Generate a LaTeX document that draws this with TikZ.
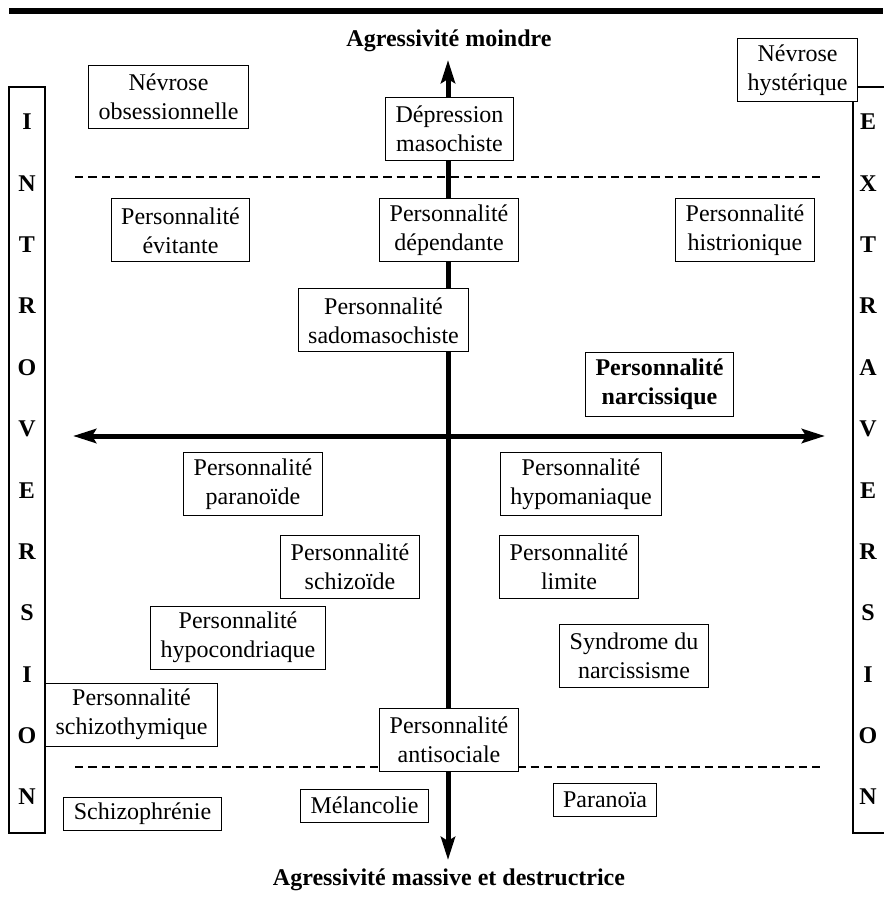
\documentclass[tikz,border=0pt]{standalone}
\usepackage{fontspec}
\setmainfont{Liberation Serif}
\usetikzlibrary{arrows.meta}

\begin{document}
\begin{tikzpicture}[x=0.5pt,y=-0.5pt,box/.style={draw,fill=white,line width=0.5pt,align=center,inner xsep=5pt,inner ysep=0pt,minimum height=31.5pt,font=\fontsize{12}{14.5}\selectfont},onebox/.style={box,minimum height=16.5pt},lettre/.style={font=\fontsize{12}{14.5}\selectfont\bfseries},titre/.style={font=\fontsize{12}{14.5}\selectfont\bfseries},axe/.style={line width=2.5pt,{Stealth[length=11.5pt,width=7pt,inset=2pt]}-{Stealth[length=11.5pt,width=7pt,inset=2pt]}},seuil/.style={line width=1.35pt,dash pattern=on 4.2pt off 2.5pt}]
  \useasboundingbox (0,0) rectangle (883,908);
  %top bar
  \fill (9,8) rectangle (883,14);
  %titles
  \node[titre] (haut) at (449,41) {Agressivité moindre};
  \node[titre] (bas) at (449,880) {Agressivité massive et destructrice};
  %axes
  \coordinate (n) at (448,60);
  \coordinate (s) at (448,860);
  \coordinate (w) at (73,436);
  \coordinate (e) at (825,436);
  \draw[axe] (s) -- (n);
  \draw[axe] (w) -- (e);
  %dashed limits
  \coordinate (d1w) at (75,177);
  \coordinate (d1e) at (822,177);
  \coordinate (d2w) at (75,767);
  \coordinate (d2e) at (822,767);
  \draw[seuil] (d1w) -- (d1e);
  \draw[seuil] (d2w) -- (d2e);
  %introversion
  \draw[line width=0.6pt] (9,87) rectangle (45,833);
  \node[lettre] (in1) at (27,122) {I};
  \node[lettre] (in2) at (27,183.4) {N};
  \node[lettre] (in3) at (27,244.7) {T};
  \node[lettre] (in4) at (27,306.1) {R};
  \node[lettre] (in5) at (27,367.4) {O};
  \node[lettre] (in6) at (27,428.8) {V};
  \node[lettre] (in7) at (27,490.2) {E};
  \node[lettre] (in8) at (27,551.5) {R};
  \node[lettre] (in9) at (27,612.9) {S};
  \node[lettre] (in10) at (27,674.2) {I};
  \node[lettre] (in11) at (27,735.6) {O};
  \node[lettre] (in12) at (27,797) {N};
  %extraversion
  \draw[line width=0.6pt] (853,87) rectangle (895,833);
  \node[lettre] (ex1) at (868,122) {E};
  \node[lettre] (ex2) at (868,183.4) {X};
  \node[lettre] (ex3) at (868,244.7) {T};
  \node[lettre] (ex4) at (868,306.1) {R};
  \node[lettre] (ex5) at (868,367.4) {A};
  \node[lettre] (ex6) at (868,428.8) {V};
  \node[lettre] (ex7) at (868,490.2) {E};
  \node[lettre] (ex8) at (868,551.5) {R};
  \node[lettre] (ex9) at (868,612.9) {S};
  \node[lettre] (ex10) at (868,674.2) {I};
  \node[lettre] (ex11) at (868,735.6) {O};
  \node[lettre] (ex12) at (868,797) {N};
  %upper half
  \node[box] (obs) at (168.5,97) {Névrose\\obsessionnelle};
  \node[box] (dmaso) at (449.5,129) {Dépression\\masochiste};
  \node[box] (hyst) at (797.5,70) {Névrose\\hystérique};
  \node[box] (evit) at (180.5,230.5) {Personnalité\\évitante};
  \node[box] (dep) at (449,230.5) {Personnalité\\dépendante};
  \node[box] (hist) at (745,230.5) {Personnalité\\histrionique};
  \node[box] (sado) at (383.5,320.5) {Personnalité\\sadomasochiste};
  \node[box,font=\fontsize{12}{14.5}\selectfont\bfseries] (narc) at (659.5,384.5) {Personnalité\\narcissique};
  %lower half
  \node[box] (para) at (253,484) {Personnalité\\paranoïde};
  \node[box] (hypom) at (581,484) {Personnalité\\hypomaniaque};
  \node[box] (schzd) at (350,566.5) {Personnalité\\schizoïde};
  \node[box] (lim) at (569,566.5) {Personnalité\\limite};
  \node[box] (hypoc) at (238,637.5) {Personnalité\\hypocondriaque};
  \node[box] (synd) at (634,656) {Syndrome du\\narcissisme};
  \node[box] (schzt) at (131.5,714.5) {Personnalité\\schizothymique};
  \node[box] (anti) at (449,740) {Personnalité\\antisociale};
  %psychoses
  \node[onebox] (schzp) at (142.5,813.5) {Schizophrénie};
  \node[onebox] (mel) at (364.5,805.5) {Mélancolie};
  \node[onebox] (paran) at (605,800) {Paranoïa};
\end{tikzpicture}
\end{document}
